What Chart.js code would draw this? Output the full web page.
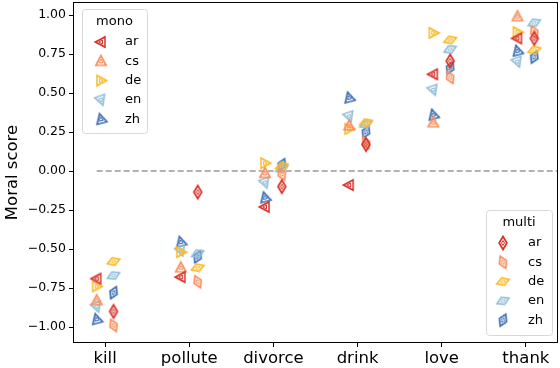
<!DOCTYPE html>
<html>
<head>
<meta charset="utf-8">
<script src="https://cdn.jsdelivr.net/npm/chart.js@4"></script>
<style>
  html, body { margin: 0; padding: 0; background: #fff; }
  #wrap { width: 560px; height: 368px; }
</style>
</head>
<body>
<div id="wrap"><canvas id="chart" width="560" height="368"></canvas></div>
<script>
const categories = ['kill', 'pollute', 'divorce', 'drink', 'love', 'thank'];
const languages = ['ar', 'cs', 'de', 'en', 'zh'];
const yTicks = [-1, -0.75, -0.5, -0.25, 0, 0.25, 0.5, 0.75, 1];

// mono models
const monoAr = [-0.69, -0.68, -0.23, -0.09, 0.62, 0.85];
const monoCs = [-0.83, -0.62, -0.015, 0.29, 0.31, 0.99];
const monoDe = [-0.74, -0.52, 0.05, 0.27, 0.885, 0.89];
const monoEn = [-0.87, -0.51, -0.075, 0.35, 0.52, 0.70];
const monoZh = [-0.95, -0.455, -0.17, 0.47, 0.36, 0.77];

// multi models
const multiAr = [-0.90, -0.135, -0.10, 0.17, 0.705, 0.85];
const multiCs = [-0.99, -0.71, -0.02, 0.18, 0.60, 0.89];
const multiDe = [-0.58, -0.62, 0.03, 0.31, 0.84, 0.775];
const multiEn = [-0.67, -0.53, 0.015, 0.30, 0.78, 0.95];
const multiZh = [-0.78, -0.55, 0.04, 0.25, 0.66, 0.73];

const monoSeries = [monoAr, monoCs, monoDe, monoEn, monoZh];
const multiSeries = [multiAr, multiCs, multiDe, multiEn, multiZh];

const colors = ['#d73027', '#f98e5c', '#fbb929', '#91bfdb', '#3f6fb5'];
const monoRot = [-90, 0, 90, 160, -15];
const multiRot = [0, -25, 70, 65, 25];

function makeMarker(kind, color) {
    const c = document.createElement('canvas');
    c.width = 18; c.height = 18;
    const g = c.getContext('2d');
    g.strokeStyle = color;
    const path = (s) => {
        g.beginPath();
        if (kind === 'tri') {
            g.moveTo(9, 9 - 5.6 * s);
            g.lineTo(9 + 5.1 * s, 9 + 4 * s);
            g.lineTo(9 - 5.1 * s, 9 + 4 * s);
        } else {
            g.moveTo(9, 9 - 6.5 * s);
            g.lineTo(9 + 3.9 * s, 9);
            g.lineTo(9, 9 + 6.5 * s);
            g.lineTo(9 - 3.9 * s, 9);
        }
        g.closePath();
    };
    g.lineWidth = 1.7; path(1); g.stroke();
    g.lineWidth = 1; path(0.38); g.stroke();
    return c;
}

const monoMarkers = colors.map(c => makeMarker('tri', c));
const multiMarkers = colors.map(c => makeMarker('dia', c));

const datasets = [];
languages.forEach((lang, k) => {
    datasets.push({
        label: 'mono ' + lang,
        data: monoSeries[k].map((v, i) => ({ x: i - 0.1, y: v })),
        pointStyle: monoMarkers[k],
        pointRotation: monoRot[k],
        order: 2
    });
});
languages.forEach((lang, k) => {
    datasets.push({
        label: 'multi ' + lang,
        data: multiSeries[k].map((v, i) => ({ x: i + 0.1, y: v })),
        pointStyle: multiMarkers[k],
        pointRotation: multiRot[k],
        order: 1
    });
});
datasets.push({
    type: 'line',
    label: 'zero',
    data: [{ x: -0.1, y: 0 }, { x: 5.37, y: 0 }],
    borderColor: '#999999',
    borderWidth: 1.7,
    borderDash: [6, 3],
    pointRadius: 0,
    order: 10
});

function drawLegend(ctx, box, title, markers, rots) {
    ctx.save();
    ctx.fillStyle = 'rgba(255,255,255,0.85)';
    ctx.strokeStyle = '#d8d8d8';
    ctx.lineWidth = 1;
    ctx.beginPath();
    ctx.roundRect(box.x + 0.5, box.y + 0.5, box.w, box.h, 3);
    ctx.fill();
    ctx.stroke();
    ctx.fillStyle = '#000';
    ctx.font = '13px "DejaVu Sans"';
    ctx.textBaseline = 'middle';
    ctx.textAlign = 'center';
    ctx.fillText(title, box.x + box.w / 2, box.y + 13);
    ctx.textAlign = 'left';
    languages.forEach((lang, k) => {
        const y = box.y + 33 + k * 19.3;
        ctx.save();
        ctx.translate(box.x + box.mx, y);
        ctx.rotate(rots[k] * Math.PI / 180);
        ctx.drawImage(markers[k], -9, -9);
        ctx.restore();
        ctx.fillText(lang, box.x + box.tx, y);
    });
    ctx.restore();
}

const framePlugin = {
    id: 'frame',
    afterDatasetsDraw(chart) {
        const ctx = chart.ctx;
        const a = chart.chartArea;
        ctx.save();
        ctx.strokeStyle = '#000';
        ctx.lineWidth = 1;
        ctx.strokeRect(Math.round(a.left) - 0.5, Math.round(a.top) - 0.5,
            Math.round(a.right - a.left) + 1, Math.round(a.bottom - a.top) + 1);
        ctx.restore();
        drawLegend(ctx, { x: 82, y: 9, w: 65, h: 124, mx: 19, tx: 43 }, 'mono', monoMarkers, monoRot);
        drawLegend(ctx, { x: 486, y: 210, w: 66, h: 125, mx: 17, tx: 42 }, 'multi', multiMarkers, multiRot);
    }
};

new Chart(document.getElementById('chart'), {
    type: 'scatter',
    data: { datasets: datasets },
    options: {
        responsive: false,
        animation: false,
        layout: { autoPadding: false, padding: { top: 3, right: 3, left: 0, bottom: 0 } },
        plugins: { legend: { display: false }, tooltip: { enabled: false } },
        elements: { point: { radius: 6 } },
        scales: {
            x: {
                type: 'linear',
                min: -0.37,
                max: 5.37,
                afterBuildTicks: (scale) => { scale.ticks = categories.map((_, i) => ({ value: i })); },
                afterFit: (scale) => {
                    scale.height = 26;
                    scale.paddingLeft = 0;
                    scale.paddingRight = 0;
                },
                border: { display: false },
                grid: { drawOnChartArea: false, drawTicks: true, tickLength: 5, color: '#000' },
                ticks: {
                    color: '#000',
                    padding: 2,
                    maxRotation: 0,
                    autoSkip: false,
                    font: { family: 'DejaVu Sans', size: 16.5 },
                    callback: (v) => categories[v]
                }
            },
            y: {
                min: -1.096,
                max: 1.077,
                afterBuildTicks: (scale) => { scale.ticks = yTicks.map(v => ({ value: v })); },
                afterFit: (scale) => {
                    scale.width = 74;
                    scale.paddingTop = 0;
                    scale.paddingBottom = 0;
                },
                border: { display: false },
                grid: { drawOnChartArea: false, drawTicks: true, tickLength: 5, color: '#000' },
                title: {
                    display: true,
                    text: 'Moral score',
                    color: '#000',
                    font: { family: 'DejaVu Sans', size: 16.5 },
                    padding: { top: 3, bottom: 0 }
                },
                ticks: {
                    color: '#000',
                    padding: 3,
                    font: { family: 'DejaVu Sans', size: 12.5 },
                    callback: (v) => (v < 0 ? '\u2212' : '') + Math.abs(v).toFixed(2)
                }
            }
        }
    },
    plugins: [framePlugin]
});
</script>
</body>
</html>
